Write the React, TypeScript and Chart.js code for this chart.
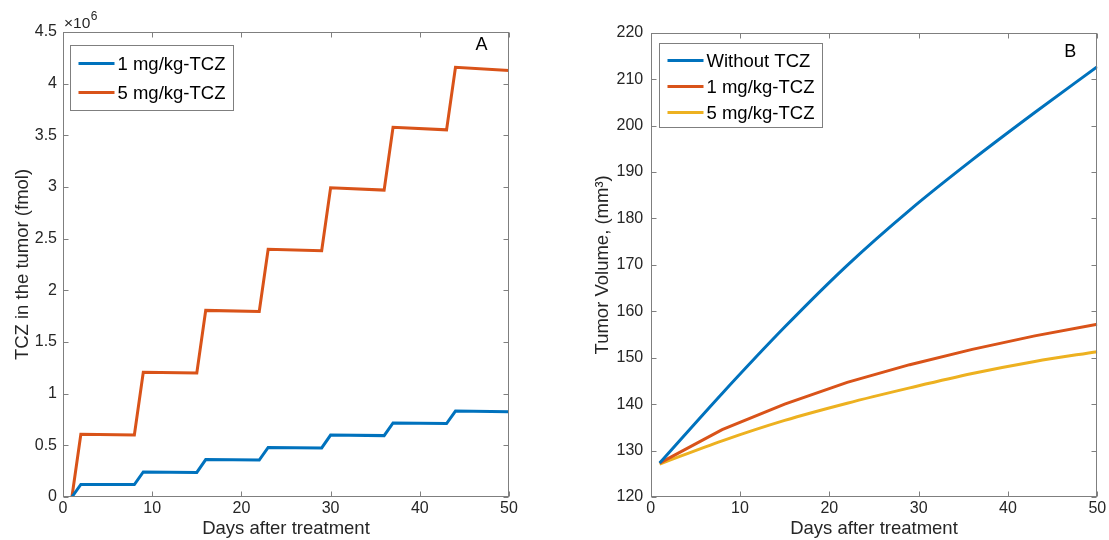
import React, { useEffect, useRef } from 'react';
import { Chart, registerables } from 'chart.js';

Chart.register(...registerables);

// ---------- data ----------
// Panel A: TCZ in the tumor (fmol, x10^6) vs days after treatment
const doseDays = [1, 2, 8, 9, 15, 16, 22, 23, 29, 30, 36, 37, 43, 44, 50];
const tcz1mg = [0, 0.122, 0.12, 0.243, 0.238, 0.362, 0.357, 0.48, 0.475, 0.599, 0.594, 0.717, 0.711, 0.832, 0.826];
const tcz5mg = [0, 0.607, 0.6, 1.207, 1.2, 1.806, 1.795, 2.398, 2.383, 2.993, 2.97, 3.578, 3.553, 4.158, 4.128];
const tczLabels = ['1 mg/kg-TCZ', '5 mg/kg-TCZ'];
const tczTicks = [0, 0.5, 1, 1.5, 2, 2.5, 3, 3.5, 4, 4.5];

// Panel B: tumor volume (mm^3) vs days after treatment
const volDays = [1, 8, 15, 22, 29, 36, 43, 50];
const volNone = [127.3, 142.3, 156.6, 169.9, 181.8, 192.6, 202.8, 212.7];
const vol1mg = [127.3, 134.5, 140.0, 144.7, 148.5, 151.8, 154.7, 157.2];
const vol5mg = [127.1, 132.1, 136.5, 140.2, 143.5, 146.6, 149.2, 151.3];
const volLabels = ['Without TCZ', '1 mg/kg-TCZ', '5 mg/kg-TCZ'];

const dayTicks = [0, 10, 20, 30, 40, 50];

// ---------- styles ----------
const FONT = "'Liberation Sans', Arial, Helvetica, sans-serif";
const BLUE = '#0072BD';
const ORANGE = '#D95319';
const YELLOW = '#EDB120';
const TEXT = '#262626';
const FRAME = '#7f7f7f';

Chart.defaults.font.family = FONT;

type Deco = {
  panel: string;
  panelDx: number;
  panelDy: number;
  exponent: boolean;
  legend: { dx: number; dy: number; w: number; h: number; first: number; row: number };
};

const framePlugin = {
  id: 'matlabFrame',
  afterDatasetsDraw(chart: any, _args: any, opts: Deco) {
    const { ctx, chartArea: a, scales } = chart;
    ctx.save();
    const L = Math.round(a.left) + 0.5;
    const R = Math.round(a.right) - 0.5;
    const T = Math.round(a.top) + 0.5;
    const B = Math.round(a.bottom) - 0.5;
    ctx.strokeStyle = FRAME;
    ctx.lineWidth = 1;
    ctx.strokeRect(L, T, R - L, B - T);
    // inward ticks
    const tl = 5;
    ctx.beginPath();
    for (const t of scales.x.ticks) {
      const px = Math.round(scales.x.getPixelForValue(t.value)) + 0.5;
      ctx.moveTo(px, B); ctx.lineTo(px, B - tl);
      ctx.moveTo(px, T); ctx.lineTo(px, T + tl);
    }
    for (const t of scales.y.ticks) {
      const py = Math.round(scales.y.getPixelForValue(t.value)) + 0.5;
      ctx.moveTo(L, py); ctx.lineTo(L + tl, py);
      ctx.moveTo(R, py); ctx.lineTo(R - tl, py);
    }
    ctx.stroke();

    // exponent label
    if (opts.exponent) {
      ctx.fillStyle = TEXT;
      ctx.textBaseline = 'alphabetic';
      ctx.textAlign = 'left';
      ctx.font = `15.5px ${FONT}`;
      const base = a.top - 4;
      ctx.fillText('\u00d710', a.left + 1, base);
      const w = ctx.measureText('\u00d710').width;
      ctx.font = `12px ${FONT}`;
      ctx.fillText('6', a.left + 1.5 + w, base - 8);
    }

    // panel letter
    ctx.fillStyle = '#000';
    ctx.font = `18px ${FONT}`;
    ctx.textAlign = 'center';
    ctx.textBaseline = 'middle';
    ctx.fillText(opts.panel, a.right - opts.panelDx, a.top + opts.panelDy);

    // legend
    const lg = opts.legend;
    const bx = Math.round(a.left + lg.dx) + 0.5;
    const by = Math.round(a.top + lg.dy) + 0.5;
    ctx.fillStyle = '#fff';
    ctx.fillRect(bx, by, lg.w, lg.h);
    ctx.strokeStyle = FRAME;
    ctx.lineWidth = 1;
    ctx.strokeRect(bx, by, lg.w, lg.h);
    ctx.font = `18.5px ${FONT}`;
    ctx.textAlign = 'left';
    ctx.textBaseline = 'middle';
    chart.data.datasets.forEach((ds: any, i: number) => {
      const y = by + lg.first + i * lg.row;
      ctx.strokeStyle = ds.borderColor;
      ctx.lineWidth = 3;
      ctx.beginPath();
      ctx.moveTo(bx + 8, y);
      ctx.lineTo(bx + 44, y);
      ctx.stroke();
      ctx.fillStyle = '#000';
      ctx.fillText(ds.label, bx + 47, y + 1);
    });
    ctx.restore();
  },
};

const lineDs = (label: string, xs: number[], ys: number[], color: string, scale = 1) => ({
  label,
  data: xs.map((x, i) => ({ x, y: ys[i] * scale })),
  borderColor: color,
  backgroundColor: color,
  borderWidth: 3,
  pointRadius: 0,
  tension: 0,
  fill: false,
});

const xScale = (height: number) => ({
  type: 'linear',
  min: 0,
  max: 50,
  afterBuildTicks: (s: any) => { s.ticks = dayTicks.map((v) => ({ value: v })); },
  ticks: { color: TEXT, font: { size: 16 }, padding: 1.5, maxRotation: 0, autoSkip: false },
  grid: { display: false, drawTicks: false },
  border: { display: false },
  title: { display: true, text: 'Days after treatment', color: TEXT, font: { size: 18.5 }, padding: { top: 0, bottom: 0 } },
  afterFit: (s: any) => { s.height = height; },
});

function makeA(): any {
  return {
    type: 'line',
    data: {
      datasets: [
        lineDs(tczLabels[0], doseDays, tcz1mg, BLUE, 1e6),
        lineDs(tczLabels[1], doseDays, tcz5mg, ORANGE, 1e6),
      ],
    },
    options: {
      animation: false,
      responsive: false,
      events: [],
      layout: { padding: { top: 32, right: 46, bottom: 0, left: 0 } },
      plugins: {
        legend: { display: false },
        tooltip: { enabled: false },
        matlabFrame: {
          panel: 'A', panelDx: 27.5, panelDy: 13, exponent: true,
          legend: { dx: 7, dy: 13, w: 163, h: 65, first: 18, row: 29 },
        },
      },
      scales: {
        x: xScale(43),
        y: {
          type: 'linear',
          min: 0,
          max: 4.5e6,
          afterBuildTicks: (s: any) => { s.ticks = tczTicks.map((v) => ({ value: v * 1e6 })); },
          ticks: { color: TEXT, font: { size: 16 }, padding: 6, callback: (v: number) => String(+(v / 1e6).toFixed(1)) },
          grid: { display: false, drawTicks: false },
          border: { display: false },
          title: { display: true, text: 'TCZ in the tumor (fmol)', color: TEXT, font: { size: 18.5 }, padding: { top: 12, bottom: 0 } },
          afterFit: (s: any) => { s.width = 63; },
        },
      },
    },
    plugins: [framePlugin],
  };
}

function makeB(): any {
  return {
    type: 'line',
    data: {
      datasets: [
        { ...lineDs(volLabels[0], volDays, volNone, BLUE), cubicInterpolationMode: 'monotone' },
        lineDs(volLabels[1], volDays, vol1mg, ORANGE),
        { ...lineDs(volLabels[2], volDays, vol5mg, YELLOW), cubicInterpolationMode: 'monotone' },
      ],
    },
    options: {
      animation: false,
      responsive: false,
      events: [],
      layout: { padding: { top: 32.7, right: 11.7, bottom: 0, left: 0 } },
      plugins: {
        legend: { display: false },
        tooltip: { enabled: false },
        matlabFrame: {
          panel: 'B', panelDx: 27, panelDy: 19, exponent: false,
          legend: { dx: 8, dy: 10, w: 163, h: 84, first: 17, row: 26 },
        },
      },
      scales: {
        x: xScale(43),
        y: {
          type: 'linear',
          min: 120,
          max: 220,
          ticks: { stepSize: 10, color: TEXT, font: { size: 16 }, padding: 7.5 },
          grid: { display: false, drawTicks: false },
          border: { display: false },
          title: { display: true, text: 'Tumor Volume, (mm\u00b3)', color: TEXT, font: { size: 18.5 }, padding: { top: 37, bottom: 0 } },
          afterFit: (s: any) => { s.width = 95.7; },
        },
      },
    },
    plugins: [framePlugin],
  };
}

function Panel({ make, left, width }: { make: () => any; left: number; width: number }) {
  const ref = useRef<HTMLCanvasElement>(null);
  useEffect(() => {
    const chart = new Chart(ref.current as HTMLCanvasElement, make());
    return () => chart.destroy();
  }, [make]);
  return (
    <canvas
      ref={ref}
      width={width}
      height={540}
      style={{ position: 'absolute', left, top: 0, width, height: 540 }}
    />
  );
}

export default function App() {
  return (
    <div style={{ position: 'absolute', left: 0, top: 0, width: 1109, height: 540, background: '#fff', overflow: 'hidden' }}>
      <Panel make={makeA} left={0} width={555} />
      <Panel make={makeB} left={555} width={554} />
    </div>
  );
}
